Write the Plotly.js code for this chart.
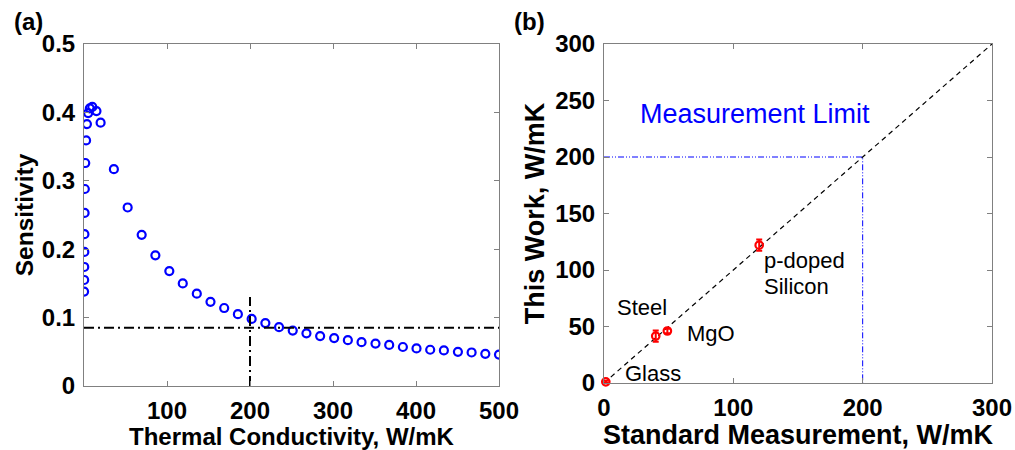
<!DOCTYPE html>
<html>
<head>
<meta charset="utf-8">
<script src="https://cdn.plot.ly/plotly-3.0.1.min.js"></script>
<style>html,body{margin:0;padding:0;background:#fff;}#chart{width:1015px;height:450px;}</style>
</head>
<body>
<div id="chart"></div>
<script>
// Panel (a): sensitivity vs thermal conductivity
const conductivity = [0.1, 0.2, 0.3, 0.4, 0.5, 0.7, 1.0, 1.5, 2.5, 3.5, 5, 7, 10, 15, 20,
  36, 52.6, 69.5, 86, 102.8, 119, 135.9, 152.4, 168.9, 185.4, 202, 218.5, 235, 251.5, 268,
  284.5, 301.4, 317.9, 334.4, 351.2, 367.7, 384.2, 400.6, 417.1, 433.6, 450.5, 467, 483.5, 500];
const sensitivity = [0.138, 0.155, 0.174, 0.196, 0.222, 0.253, 0.288, 0.326, 0.359, 0.383, 0.399, 0.406, 0.408, 0.402, 0.385,
  0.317, 0.261, 0.221, 0.191, 0.168, 0.150, 0.135, 0.123, 0.114, 0.105, 0.098, 0.092, 0.086, 0.081, 0.077,
  0.073, 0.070, 0.067, 0.064, 0.062, 0.060, 0.057, 0.055, 0.053, 0.052, 0.050, 0.049, 0.047, 0.046];
const limitSensitivity = 0.085;
const limitConductivityA = 200;
const limitLineTopA = 0.13;
const xTicksA = [100, 200, 300, 400, 500];
const yTicksA = [0, 0.1, 0.2, 0.3, 0.4, 0.5];
const yTickTextA = ['0', '0.1', '0.2', '0.3', '0.4', '0.5'];

// Panel (b): this work vs standard measurement
const materials = ["Glass", "Steel", "MgO", "p-doped Silicon"];
const standardK = [1.4, 40, 49, 120];
const thisWorkK = [1, 41.5, 46, 122];
const thisWorkErr = [1, 5, 2, 5];
const measurementLimit = 200;
const axisMaxB = 300;
const xTicksB = [0, 100, 200, 300];
const yTicksB = [0, 50, 100, 150, 200, 250, 300];

const axisGray = '#808080';
const FAM = 'Liberation Sans, Arial, sans-serif';
const tickFont = {family: FAM, size: 24, color: '#000', weight: 'bold'};

function axisBase() {
  return {
    showline: true, linecolor: axisGray, linewidth: 1, mirror: 'allticks',
    ticks: 'inside', ticklen: 5, tickcolor: axisGray, tickwidth: 1,
    showgrid: false, zeroline: false, ticklabelstandoff: 3,
    tickfont: tickFont, fixedrange: true
  };
}

const dashDot = '10px,4px,2px,4px';
const traces = [
  {
    x: conductivity, y: sensitivity, type: 'scatter', mode: 'markers',
    marker: {symbol: 'circle-open', size: 8, color: '#0000ff', line: {width: 2.2, color: '#0000ff'}},
    xaxis: 'x', yaxis: 'y', hoverinfo: 'skip'
  },
  {
    x: [0, 500], y: [limitSensitivity, limitSensitivity], type: 'scatter', mode: 'lines',
    line: {color: '#000', width: 2, dash: dashDot}, xaxis: 'x', yaxis: 'y', hoverinfo: 'skip'
  },
  {
    x: [limitConductivityA, limitConductivityA], y: [0, limitLineTopA], type: 'scatter', mode: 'lines',
    line: {color: '#000', width: 2, dash: dashDot}, xaxis: 'x', yaxis: 'y', hoverinfo: 'skip'
  },
  {
    x: [0, axisMaxB], y: [0, axisMaxB], type: 'scatter', mode: 'lines',
    line: {color: '#000', width: 1.2, dash: '5px,4px'}, xaxis: 'x2', yaxis: 'y2', hoverinfo: 'skip'
  },
  {
    x: [0, measurementLimit, measurementLimit], y: [measurementLimit, measurementLimit, 0], type: 'scatter', mode: 'lines',
    line: {color: '#0000ff', width: 1, dash: '6px,2px,1px,2px,1px,2px'}, xaxis: 'x2', yaxis: 'y2', hoverinfo: 'skip'
  },
  {
    x: standardK, y: thisWorkK, type: 'scatter', mode: 'markers', text: materials,
    marker: {symbol: 'circle-open', size: 7.5, color: '#ff0000', line: {width: 2.2, color: '#ff0000'}},
    error_y: {type: 'data', array: thisWorkErr, visible: true, color: '#ff0000', thickness: 2, width: 3},
    xaxis: 'x2', yaxis: 'y2', hoverinfo: 'skip', cliponaxis: false
  }
];

function note(text, x, y, size, color, extra) {
  return Object.assign({text: text, xref: 'x2', yref: 'y2', x: x, y: y, showarrow: false,
    xanchor: 'center', yanchor: 'middle', font: {family: FAM, size: size, color: color}}, extra || {});
}

const layout = {
  width: 1015, height: 450,
  margin: {l: 0, r: 0, t: 0, b: 0},
  paper_bgcolor: '#fff', plot_bgcolor: '#fff',
  showlegend: false,
  xaxis: Object.assign(axisBase(), {
    domain: [84/1015, 499/1015], range: [0, 500], tickvals: xTicksA, anchor: 'y',
    title: {text: 'Thermal Conductivity, W/mK', font: {family: FAM, size: 24, color: '#000', weight: 'bold'}, standoff: 2}
  }),
  yaxis: Object.assign(axisBase(), {
    domain: [1 - 386/450, 1 - 44/450], range: [0, 0.5], tickvals: yTicksA, ticktext: yTickTextA, anchor: 'x',
    title: {text: 'Sensitivity', font: {family: FAM, size: 24.5, color: '#000', weight: 'bold'}, standoff: 1}
  }),
  xaxis2: Object.assign(axisBase(), {
    domain: [604/1015, 992/1015], range: [0, axisMaxB], tickvals: xTicksB, anchor: 'y2',
    title: {text: 'Standard Measurement, W/mK', font: {family: FAM, size: 27, color: '#000', weight: 'bold'}, standoff: 0}
  }),
  yaxis2: Object.assign(axisBase(), {
    domain: [1 - 383/450, 1 - 44/450], range: [0, axisMaxB], tickvals: yTicksB, anchor: 'x2',
    title: {text: 'This Work, W/mK', font: {family: FAM, size: 27, color: '#000', weight: 'bold'}, standoff: 2}
  }),
  annotations: [
    {text: '(a)', xref: 'paper', yref: 'paper', x: 28/1015, y: 1 - 22/450, showarrow: false,
     xanchor: 'center', yanchor: 'middle', font: {family: FAM, size: 24, color: '#000', weight: 'bold'}},
    {text: '(b)', xref: 'paper', yref: 'paper', x: 529/1015, y: 1 - 22/450, showarrow: false,
     xanchor: 'center', yanchor: 'middle', font: {family: FAM, size: 24, color: '#000', weight: 'bold'}},
    note('Measurement Limit', 117, 238, 27, '#0000ff'),
    note('Steel', 29, 67, 22, '#000'),
    note('MgO', 83, 44, 22, '#000'),
    note('Glass', 38, 8, 22, '#000'),
    note('p-doped', 122.5, 108, 22, '#000', {xanchor: 'left'}),
    note('Silicon', 122.5, 85, 22, '#000', {xanchor: 'left'})
  ]
};

Plotly.newPlot('chart', traces, layout, {displayModeBar: false, staticPlot: true});
</script>
</body>
</html>
